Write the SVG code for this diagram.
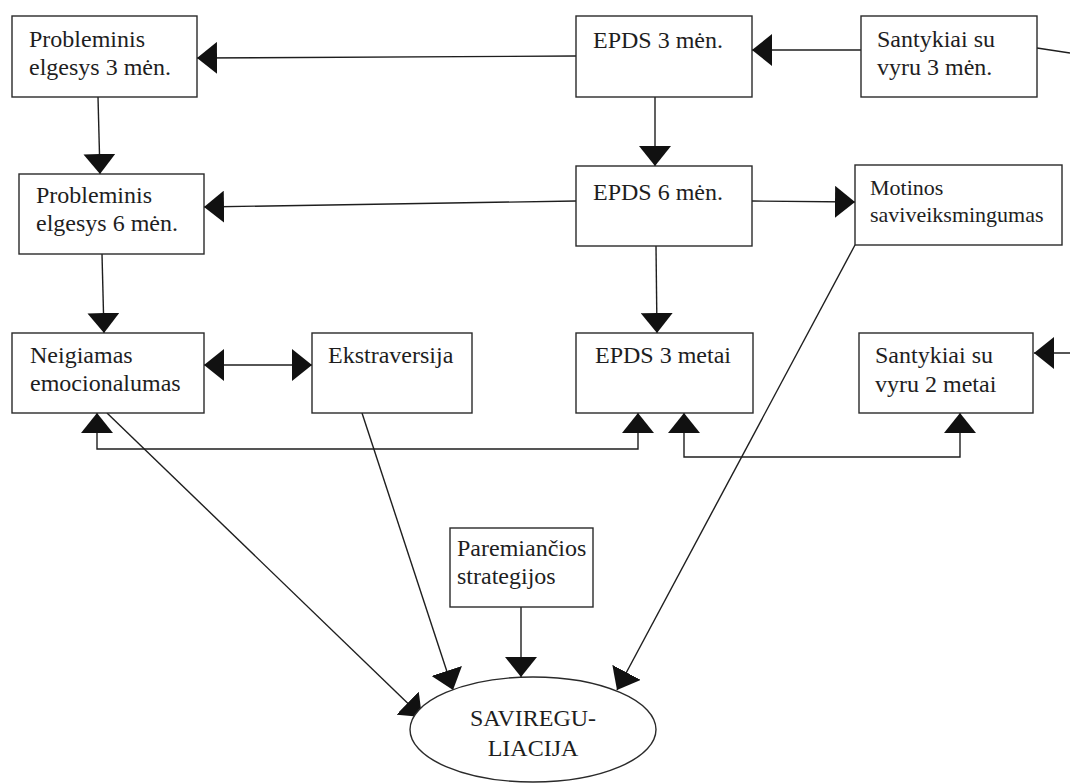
<svg xmlns="http://www.w3.org/2000/svg" width="1070" height="784" viewBox="0 0 1070 784" font-family="'Liberation Serif', 'DejaVu Serif', serif">
  <defs>
    <style>
      .box { fill: #ffffff; stroke: #2a2a2a; stroke-width: 1.4; }
      text { font-family: 'Liberation Serif', 'DejaVu Serif', serif; font-size: 24px; fill: #1e1e1e; }
      text.sm { font-size: 22px; }
      text.ctr { text-anchor: middle; }
      .conn { fill: none; stroke: #1e1e1e; stroke-width: 1.4; }
    </style>
    <marker id="ah" markerUnits="userSpaceOnUse" viewBox="0 0 20 32" markerWidth="20" markerHeight="32" refX="20" refY="16" orient="auto-start-reverse">
      <path d="M0,0 L20,16 L0,32 Z" fill="#111111"/>
    </marker>
  </defs>

  <rect width="1070" height="784" fill="#ffffff"/>

  <!-- connectors -->
  <g id="connectors">
    <path class="conn" d="M576,56 L197,58" marker-end="url(#ah)"/>
    <path class="conn" d="M861,50 L752,50" marker-end="url(#ah)"/>
    <path class="conn" d="M1037,48 L1070,53"/>
    <path class="conn" d="M98,97 L100,174" marker-end="url(#ah)"/>
    <path class="conn" d="M655,97 L655,166" marker-end="url(#ah)"/>
    <path class="conn" d="M576,201 L204,207" marker-end="url(#ah)"/>
    <path class="conn" d="M752,201 L855,202" marker-end="url(#ah)"/>
    <path class="conn" d="M102,254 L104,333" marker-end="url(#ah)"/>
    <path class="conn" d="M656,246 L657,333" marker-end="url(#ah)"/>
    <path class="conn" d="M204,365 L312,365" marker-start="url(#ah)" marker-end="url(#ah)"/>
    <path class="conn" d="M1070,353 L1034,353" marker-end="url(#ah)"/>
    <path class="conn" d="M97,413 L97,449 L638,449 L638,413" marker-start="url(#ah)" marker-end="url(#ah)"/>
    <path class="conn" d="M684,413 L684,457 L960,457 L960,413" marker-start="url(#ah)" marker-end="url(#ah)"/>
    <path class="conn" d="M107,413 L422,717" marker-end="url(#ah)"/>
    <path class="conn" d="M362,413 L453,690" marker-end="url(#ah)"/>
    <path class="conn" d="M521,607 L521,677" marker-end="url(#ah)"/>
    <path class="conn" d="M855,245 L617,690" marker-end="url(#ah)"/>
  </g>

  <g id="probleminis-3">
    <rect class="box" x="12" y="16" width="185" height="81"/>
    <text x="29" y="47">Probleminis</text>
    <text x="29" y="75">elgesys 3 mėn.</text>
  </g>

  <g id="epds-3-men">
    <rect class="box" x="576" y="16" width="176" height="81"/>
    <text x="593" y="48">EPDS 3 mėn.</text>
  </g>

  <g id="santykiai-3">
    <rect class="box" x="861" y="16" width="176" height="81"/>
    <text x="877" y="47">Santykiai su</text>
    <text x="877" y="75">vyru 3 mėn.</text>
  </g>

  <g id="probleminis-6">
    <rect class="box" x="19" y="174" width="185" height="80"/>
    <text x="36" y="203">Probleminis</text>
    <text x="36" y="231">elgesys 6 mėn.</text>
  </g>

  <g id="epds-6-men">
    <rect class="box" x="576" y="166" width="176" height="80"/>
    <text x="593" y="200">EPDS 6 mėn.</text>
  </g>

  <g id="motinos">
    <rect class="box" x="855" y="165" width="207" height="80"/>
    <text class="sm" x="870" y="195">Motinos</text>
    <text class="sm" x="870" y="222">saviveiksmingumas</text>
  </g>

  <g id="neigiamas">
    <rect class="box" x="12" y="333" width="192" height="80"/>
    <text x="30" y="363">Neigiamas</text>
    <text x="30" y="391">emocionalumas</text>
  </g>

  <g id="ekstraversija">
    <rect class="box" x="312" y="333" width="160" height="80"/>
    <text x="328" y="363">Ekstraversija</text>
  </g>

  <g id="epds-3-metai">
    <rect class="box" x="576" y="333" width="177" height="80"/>
    <text x="595" y="363">EPDS 3 metai</text>
  </g>

  <g id="santykiai-2">
    <rect class="box" x="859" y="333" width="174" height="80"/>
    <text x="875" y="363">Santykiai su</text>
    <text x="875" y="392">vyru 2 metai</text>
  </g>

  <g id="paremiancios">
    <rect class="box" x="450" y="528" width="143" height="79"/>
    <text x="457" y="556">Paremiančios</text>
    <text x="457" y="584">strategijos</text>
  </g>

  <g id="savireguliacija">
    <ellipse class="box" cx="533" cy="729.5" rx="123" ry="52.5"/>
    <text class="ctr" x="533" y="726">SAVIREGU-</text>
    <text class="ctr" x="533" y="756">LIACIJA</text>
  </g>
</svg>
